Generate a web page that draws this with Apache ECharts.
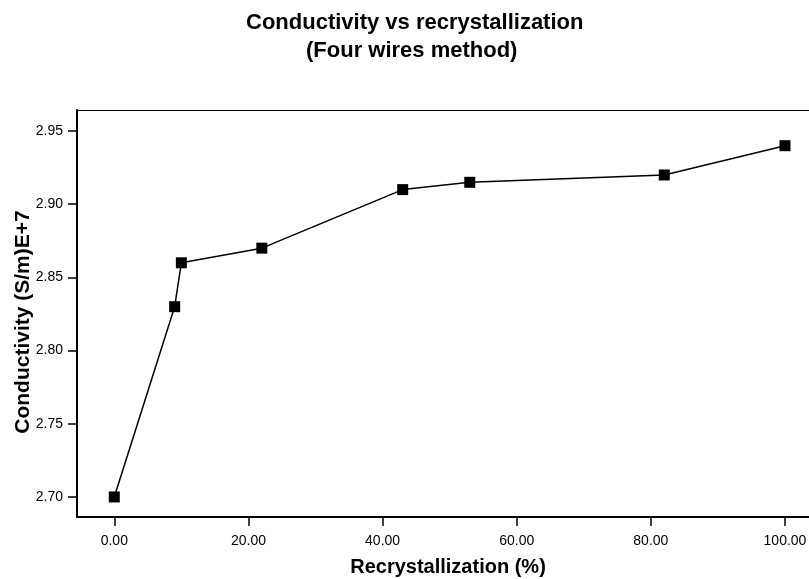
<!DOCTYPE html>
<html>
<head>
<meta charset="utf-8">
<script src="https://cdn.jsdelivr.net/npm/echarts@6/dist/echarts.min.js"></script>
<style>
html,body{margin:0;padding:0;background:#fff;}
#chart{width:809px;height:579px;}
</style>
</head>
<body>
<div id="chart"></div>
<script>
const recrystallization = [0, 9, 10, 22, 43, 53, 82, 100];
const conductivity = [2.70, 2.83, 2.86, 2.87, 2.91, 2.915, 2.92, 2.94];
const xTicks = [0, 20, 40, 60, 80, 100];
const yTicks = [2.70, 2.75, 2.80, 2.85, 2.90, 2.95];
const titleLine1 = 'Conductivity vs recrystallization';
const titleLine2 = '(Four wires method)';
const xName = 'Recrystallization (%)';
const yName = 'Conductivity (S/m)E+7';

const FONT = '"Liberation Sans", Arial, sans-serif';
const chart = echarts.init(document.getElementById('chart'), null, {renderer: 'canvas'});
const points = recrystallization.map((x, i) => [x, conductivity[i]]);

chart.setOption({
  animation: false,
  backgroundColor: '#fff',
  title: [
    {text: titleLine1, left: 246, top: 12, padding: 0,
     textStyle: {fontFamily: FONT, fontSize: 22, fontWeight: 'bold', color: '#000'}},
    {text: titleLine2, left: 306, top: 40, padding: 0,
     textStyle: {fontFamily: FONT, fontSize: 22, fontWeight: 'bold', color: '#000'}}
  ],
  grid: {left: 77, right: 0, top: 110, bottom: 62, containLabel: false, outerBoundsMode: 'none'},
  xAxis: [{
    type: 'value', min: -5.56, max: 103.58,
    name: xName, nameLocation: 'middle', nameGap: 40, nameMoveOverlap: false,
    nameTextStyle: {fontFamily: FONT, fontSize: 20, fontWeight: 'bold', color: '#000', padding: [0, 0, 0, 10]},
    axisLine: {show: true, onZero: false, lineStyle: {color: '#000', width: 2}},
    axisTick: {show: true, length: 9, lineStyle: {color: '#000', width: 1.5}, customValues: xTicks},
    axisLabel: {show: true, margin: 17, fontFamily: FONT, fontSize: 14, color: '#000',
      customValues: xTicks, formatter: v => v.toFixed(2)},
    splitLine: {show: false}
  }, {
    type: 'value', position: 'top', min: -5.56, max: 103.58,
    axisLine: {show: true, onZero: false, lineStyle: {color: '#000', width: 1}},
    axisTick: {show: false}, axisLabel: {show: false}, splitLine: {show: false}
  }],
  yAxis: {
    type: 'value', min: 2.6863, max: 2.9644,
    name: yName, nameLocation: 'middle', nameGap: 43, nameRotate: 90, nameMoveOverlap: false,
    nameTextStyle: {fontFamily: FONT, fontSize: 21, fontWeight: 'bold', color: '#000', padding: [0, 17, 0, 0]},
    axisLine: {show: true, onZero: false, lineStyle: {color: '#000', width: 2}},
    axisTick: {show: true, length: 9, lineStyle: {color: '#000', width: 1.5}, customValues: yTicks},
    axisLabel: {show: true, margin: 14, fontFamily: FONT, fontSize: 14, color: '#000',
      customValues: yTicks, formatter: v => v.toFixed(2)},
    splitLine: {show: false}
  },
  series: [{
    type: 'line', data: points, xAxisIndex: 0,
    symbol: 'rect', symbolSize: 11,
    lineStyle: {color: '#000', width: 1.5},
    itemStyle: {color: '#000'}
  }]
});
</script>
</body>
</html>
